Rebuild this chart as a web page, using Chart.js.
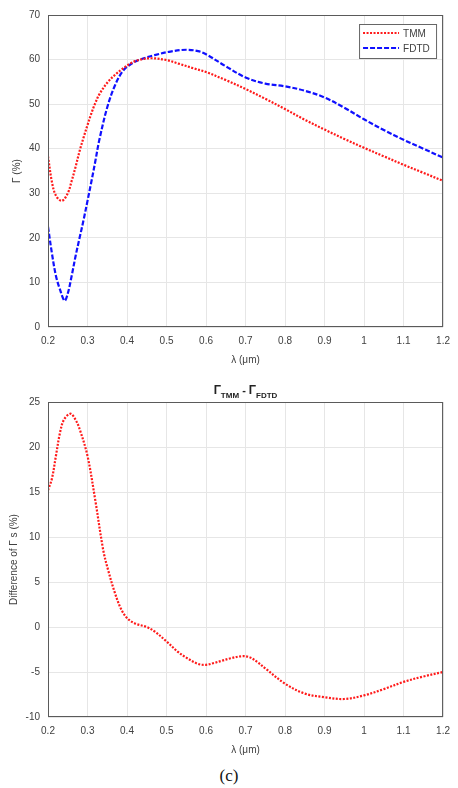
<!DOCTYPE html>
<html>
<head>
<meta charset="utf-8">
<script src="https://cdn.jsdelivr.net/npm/chart.js@4.4.1/dist/chart.umd.min.js"></script>
<style>
  body { margin: 0; background: #fff; width: 458px; height: 788px; position: relative; overflow: hidden; }
  canvas { position: absolute; left: 0; }
  #top { top: 0; }
  #bottom { top: 380px; }
  #caption { position: absolute; top: 766px; left: 0; width: 458px; text-align: center;
    font-family: "Liberation Serif", "DejaVu Serif", serif; font-size: 17px; color: #111; }
</style>
</head>
<body>
<canvas id="top" width="458" height="380"></canvas>
<canvas id="bottom" width="458" height="380"></canvas>
<div id="caption">(c)</div>
<script>
// wavelength (um) and reflectance (%)
const tmmLam = [0.2, 0.21, 0.22, 0.235, 0.25, 0.26, 0.27, 0.28, 0.29, 0.3, 0.31, 0.32, 0.33, 0.35, 0.37, 0.39, 0.41, 0.43, 0.46, 0.5, 0.53, 0.57, 0.6, 0.65, 0.7, 0.75, 0.8, 0.85, 0.9, 0.95, 1.0, 1.05, 1.1, 1.15, 1.2];
const tmmVal = [38.3, 32.5, 29.5, 28.3, 30, 32.8, 36, 39.5, 42.5, 45.3, 48, 50.3, 52.2, 54.8, 56.6, 58, 59.2, 59.9, 60.3, 59.9, 59.1, 58, 57.2, 55.4, 53.4, 51.2, 48.9, 46.5, 44.3, 42.2, 40.2, 38.3, 36.4, 34.6, 32.8];

const fdtdLam = [0.2, 0.21, 0.22, 0.23, 0.242, 0.25, 0.26, 0.27, 0.28, 0.29, 0.3, 0.31, 0.32, 0.33, 0.35, 0.37, 0.39, 0.41, 0.43, 0.47, 0.51, 0.55, 0.58, 0.6, 0.65, 0.7, 0.75, 0.8, 0.85, 0.9, 0.95, 1.0, 1.05, 1.1, 1.15, 1.2];
const fdtdVal = [22.5, 16.5, 11.5, 8.5, 5.9, 7.5, 11.5, 16, 20, 24, 28.3, 32.7, 37.3, 42, 49.3, 54.3, 57.5, 59, 59.9, 61, 61.8, 62.2, 61.9, 61.2, 58.5, 56, 54.6, 54, 53, 51.5, 49.2, 46.6, 44.2, 42, 40, 38];

const diffLam = [0.2, 0.21, 0.22, 0.23, 0.24, 0.257, 0.27, 0.28, 0.3, 0.32, 0.34, 0.353, 0.37, 0.385, 0.4, 0.42, 0.45, 0.47, 0.5, 0.53, 0.55, 0.58, 0.6, 0.62, 0.64, 0.66, 0.69, 0.71, 0.73, 0.75, 0.8, 0.85, 0.9, 0.95, 1.0, 1.05, 1.1, 1.15, 1.2];
const diffVal = [15.2, 16.5, 19, 21.5, 23, 23.7, 23, 22, 19, 14, 8.5, 6.2, 3.7, 2, 1, 0.4, 0, -0.5, -1.6, -2.8, -3.4, -4.1, -4.2, -4, -3.75, -3.5, -3.25, -3.35, -3.9, -4.6, -6.3, -7.4, -7.8, -8, -7.6, -6.9, -6.1, -5.5, -5];

const seriesNames = ["TMM", "FDTD"];

const pts = (xs, ys) => xs.map((x, i) => ({ x: x, y: ys[i] }));

const tickFont = { family: "'Liberation Sans', Arial, sans-serif", size: 10 };
const gridColor = "#e6e6e6";
const textColor = "#404040";

const boxPlugin = {
    id: "box",
    afterDatasetsDraw(chart) {
        const a = chart.chartArea;
        const ctx = chart.ctx;
        ctx.save();
        ctx.strokeStyle = "#5a5a5a";
        ctx.lineWidth = 1;
        ctx.strokeRect(a.left + 0.5, a.top + 0.5, a.right - a.left - 1, a.bottom - a.top - 1);
        ctx.restore();
    },
};

const legendPlugin = {
    id: "boxLegend",
    afterDraw(chart) {
        const a = chart.chartArea;
        const ctx = chart.ctx;
        const w = 77, h = 34;
        const x0 = a.right - 7 - w, y0 = a.top + 9;
        ctx.save();
        ctx.fillStyle = "#fff";
        ctx.fillRect(x0, y0, w, h);
        ctx.strokeStyle = "#666";
        ctx.lineWidth = 1;
        ctx.strokeRect(x0 + 0.5, y0 + 0.5, w, h);
        chart.data.datasets.forEach((ds, i) => {
            const y = y0 + 9 + i * 15;
            ctx.beginPath();
            ctx.strokeStyle = ds.borderColor;
            ctx.lineWidth = ds.borderWidth;
            ctx.setLineDash(ds.borderDash);
            ctx.moveTo(x0 + 4, y);
            ctx.lineTo(x0 + 40, y);
            ctx.stroke();
            ctx.setLineDash([]);
            ctx.fillStyle = textColor;
            ctx.font = "10px 'Liberation Sans', Arial, sans-serif";
            ctx.textBaseline = "middle";
            ctx.fillText(ds.label, x0 + 44, y + 1);
        });
        ctx.restore();
    },
};

const titlePlugin = {
    id: "subTitle",
    afterDraw(chart) {
        const ctx = chart.ctx;
        const parts = [["Γ", 12, 0], ["TMM", 8, 4], [" - ", 11, 0], ["Γ", 12, 0], ["FDTD", 8, 4]];
        ctx.save();
        ctx.fillStyle = "#222";
        ctx.textBaseline = "alphabetic";
        let total = 0;
        parts.forEach((p) => {
            ctx.font = "bold " + p[1] + "px 'Liberation Sans', Arial, sans-serif";
            total += ctx.measureText(p[0]).width;
        });
        let x = (chart.chartArea.left + chart.chartArea.right) / 2 - total / 2;
        parts.forEach((p) => {
            ctx.font = "bold " + p[1] + "px 'Liberation Sans', Arial, sans-serif";
            ctx.fillText(p[0], x, 14 + p[2]);
            x += ctx.measureText(p[0]).width;
        });
        ctx.restore();
    },
};

const xAxis = (height, labelPad, titlePad) => ({
    type: "linear",
    min: 0.2,
    max: 1.2,
    afterFit: (s) => { s.height = height; },
    ticks: {
        stepSize: 0.1,
        padding: labelPad,
        color: textColor,
        font: tickFont,
        maxRotation: 0,
        callback: (v) => String(+v.toFixed(1)),
    },
    grid: { color: gridColor, drawTicks: false },
    border: { display: false },
    title: { display: true, text: "λ (μm)", color: textColor, font: tickFont, padding: { top: 0, bottom: titlePad } },
});

const yAxis = (min, max, step, title, titlePad) => ({
    min: min,
    max: max,
    afterFit: (s) => { s.width = 48; },
    ticks: { stepSize: step, padding: 8, color: textColor, font: tickFont },
    grid: { color: gridColor, drawTicks: false },
    border: { display: false },
    title: { display: true, text: title, color: textColor, font: tickFont, padding: { top: titlePad, bottom: 0 } },
});

new Chart(document.getElementById("top"), {
    type: "line",
    data: {
        datasets: [
            {
                label: seriesNames[0],
                data: pts(tmmLam, tmmVal),
                borderColor: "#ff1a1a",
                borderWidth: 2.2,
                borderDash: [2, 1.5],
                pointRadius: 0,
                tension: 0.35,
            },
            {
                label: seriesNames[1],
                data: pts(fdtdLam, fdtdVal),
                borderColor: "#1010ff",
                borderWidth: 2.2,
                borderDash: [5, 2],
                pointRadius: 0,
                tension: 0.35,
            },
        ],
    },
    options: {
        responsive: false,
        animation: false,
        layout: { padding: { top: 15, right: 11, left: 0, bottom: 0 } },
        plugins: { legend: { display: false }, tooltip: { enabled: false } },
        scales: {
            x: xAxis(53, 8, 14),
            y: yAxis(0, 70, 10, "Γ (%)", 11),
        },
    },
    plugins: [boxPlugin, legendPlugin],
});

new Chart(document.getElementById("bottom"), {
    type: "line",
    data: {
        datasets: [
            {
                label: "ΓTMM - ΓFDTD",
                data: pts(diffLam, diffVal),
                borderColor: "#ff1a1a",
                borderWidth: 2.2,
                borderDash: [2, 1.5],
                pointRadius: 0,
                tension: 0.35,
            },
        ],
    },
    options: {
        responsive: false,
        animation: false,
        layout: { padding: { top: 22, right: 11, left: 0, bottom: 0 } },
        plugins: { legend: { display: false }, tooltip: { enabled: false } },
        scales: {
            x: xAxis(43, 8, 4),
            y: yAxis(-10, 25, 5, "Difference of Γ s (%)", 8),
        },
    },
    plugins: [boxPlugin, titlePlugin],
});
</script>
</body>
</html>
